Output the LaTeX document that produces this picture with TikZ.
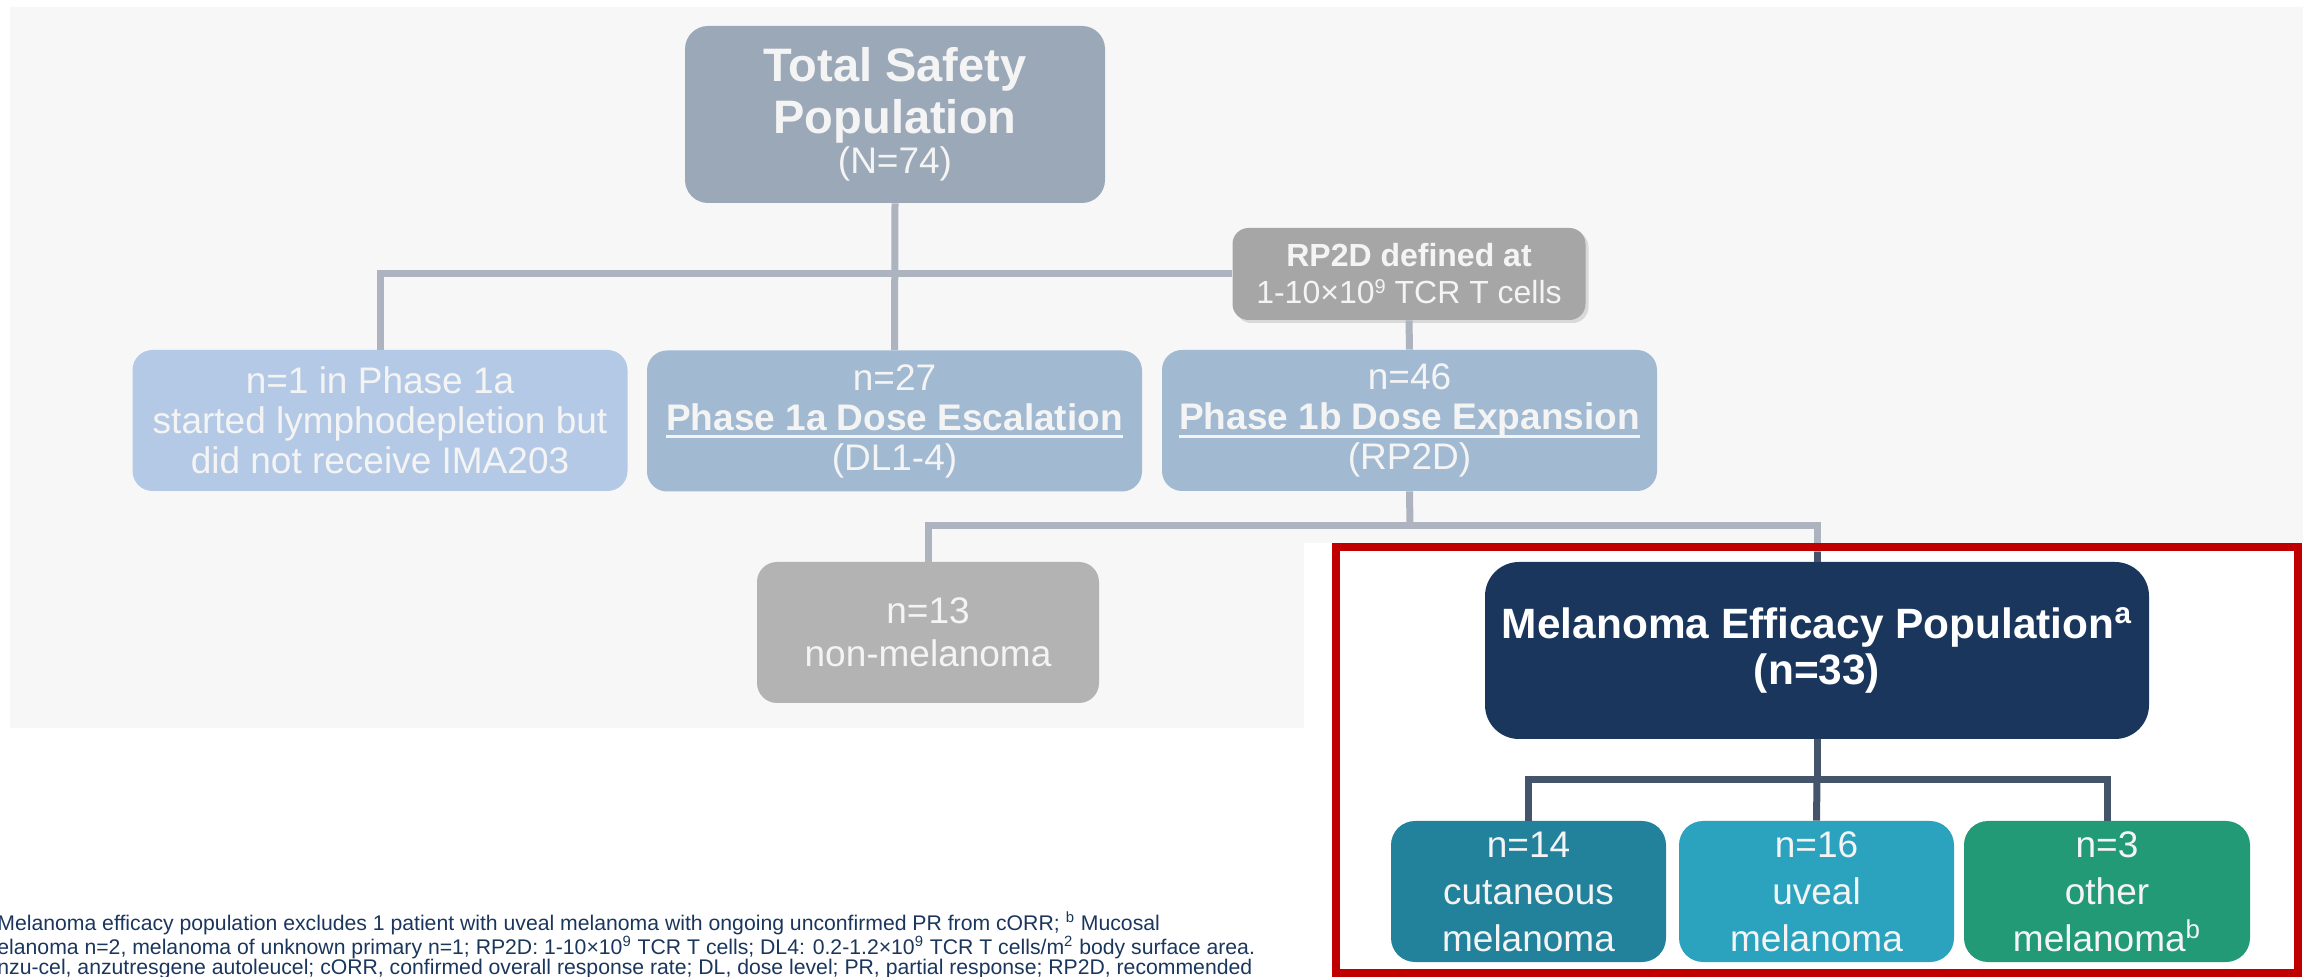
\documentclass[tikz,border=0pt]{standalone}
\usepackage{fontspec}
\setmainfont{Liberation Sans}
\usetikzlibrary{shadows}
\definecolor{bggray}{HTML}{F7F7F7}
\definecolor{boxtext}{HTML}{F4F4F4}
\definecolor{totcol}{HTML}{9BA8B8}
\definecolor{rpcol}{HTML}{A6A6A6}
\definecolor{lymcol}{HTML}{B4C9E5}
\definecolor{phcol}{HTML}{A1B9D1}
\definecolor{nmcol}{HTML}{B3B3B3}
\definecolor{effcol}{HTML}{1A365D}
\definecolor{cutcol}{HTML}{23829B}
\definecolor{uvecol}{HTML}{2BA3BF}
\definecolor{othcol}{HTML}{229A76}
\definecolor{linkgray}{HTML}{ADB4BF}
\definecolor{linkdark}{HTML}{44546A}
\definecolor{redframe}{HTML}{C00000}
\definecolor{notecol}{HTML}{1B365D}
\newcommand{\uln}[1]{\setbox0\hbox{#1}\rlap{\rule[-4pt]{\wd0}{1.5pt}}\box0}
\newcommand{\supnum}[1]{\raisebox{0.33em}{\fontsize{10}{10}\selectfont #1}}

\begin{document}
\begin{tikzpicture}[x=0.5pt, y=-0.5pt,
		box/.style={rectangle, rounded corners=10pt, inner sep=0pt, align=center, text=boxtext,
			font=\fontsize{18.5}{20}\selectfont, minimum width=247.5pt, minimum height=70.5pt},
		kid/.style={box, rounded corners=12pt, minimum width=137.5pt, font=\fontsize{18.5}{23.5}\selectfont},
		graylink/.style={draw=linkgray, line width=3.5pt},
		darklink/.style={draw=linkdark, line width=3.5pt}]
		\useasboundingbox (0,0) rectangle (2303,977);
		\fill[bggray] (10,7) -- (2303,7) -- (2303,543) -- (1304,543) -- (1304,728) -- (10,728) -- cycle;

		% top part
		\node[box, fill=totcol, minimum width=210pt, minimum height=88.5pt, rounded corners=11.5pt,
			font=\fontsize{23.5}{26}\selectfont\bfseries] (total) at (895,114.5)
			{Total Safety\\Population\\[-6pt]{\mdseries\fontsize{18.5}{20}\selectfont (N=74)}};
		\node[box, fill=rpcol, minimum width=176.5pt, minimum height=46pt, rounded corners=8pt,
			font=\fontsize{16}{18.5}\selectfont,
			drop shadow={shadow xshift=1.5pt, shadow yshift=-1.5pt, opacity=0.25}] (rp2d) at (1409,274)
			{\textbf{RP2D defined at}\\1-10×10\supnum{9} TCR T cells};
		\node[box, fill=lymcol] (lymph) at (380,420.5)
			{n=1 in Phase 1a\\started lymphodepletion but\\did not receive IMA203};
		\node[box, fill=phcol] (esc) at (894.5,421)
			{n=27\\\uln{\textbf{Phase 1a Dose Escalation}}\\(DL1-4)};
		\node[box, fill=phcol] (exp) at (1409.5,420.5)
			{n=46\\\uln{\textbf{Phase 1b Dose Expansion}}\\(RP2D)};
		\node[box, fill=nmcol, minimum width=171pt, font=\fontsize{18.5}{21.5}\selectfont] (nonmel) at (928,632.5)
			{n=13\\non-melanoma};

		% efficacy part
		\node[box, fill=effcol, text=white, minimum width=332pt, minimum height=88.5pt, rounded corners=17pt,
			font=\fontsize{21.2}{23}\selectfont\bfseries] (eff) at (1817,650.5)
			{Melanoma Efficacy Population\textsuperscript{a}\\(n=33)};
		\node[kid, fill=cutcol] (cut) at (1528.5,891.5) {n=14\\cutaneous\\melanoma};
		\node[kid, fill=uvecol] (uve) at (1816.5,891.5) {n=16\\uveal\\melanoma};
		\node[kid, fill=othcol, minimum width=143pt] (oth) at (2107,891.5) {n=3\\other\\melanoma\textsuperscript{b}};

		\coordinate (fork) at (1410,526);
		\coordinate (kidfork) at (1817,780);
		\draw[graylink] (lymph.north) |- (rp2d.west);
		\draw[graylink] (total.south) -- (esc.north);
		\draw[graylink] (rp2d.south) -- (exp.north);
		\draw[graylink] (exp.south) -- (fork);
		\draw[graylink] (nonmel.north) |- (fork) -| (eff.north);
		\draw[darklink] (eff.south) -- (kidfork);
		\draw[darklink] (cut.north) |- (kidfork) -| (oth.north);
		\draw[darklink] (kidfork) -- (uve.north);

		\draw[draw=redframe, line width=4pt] (1336,547) rectangle (2298,973);
		\draw[darklink] (eff.north) -- ++(0,-10);

		% footnote
		\node[anchor=north west, inner sep=0pt, align=left, text=notecol,
			font=\fontsize{10.6}{10}\selectfont] (note) at (-3,911)
			{Melanoma efficacy population excludes 1 patient with uveal melanoma with ongoing unconfirmed PR from cORR; \textsuperscript{b} Mucosal\\
			elanoma n=2, melanoma of unknown primary n=1; RP2D: 1-10×10\textsuperscript{9} TCR T cells; DL4: 0.2-1.2×10\textsuperscript{9} TCR T cells/m\textsuperscript{2} body surface area.\\
			nzu-cel, anzutresgene autoleucel; cORR, confirmed overall response rate; DL, dose level; PR, partial response; RP2D, recommended};
	\end{tikzpicture}
\end{document}
